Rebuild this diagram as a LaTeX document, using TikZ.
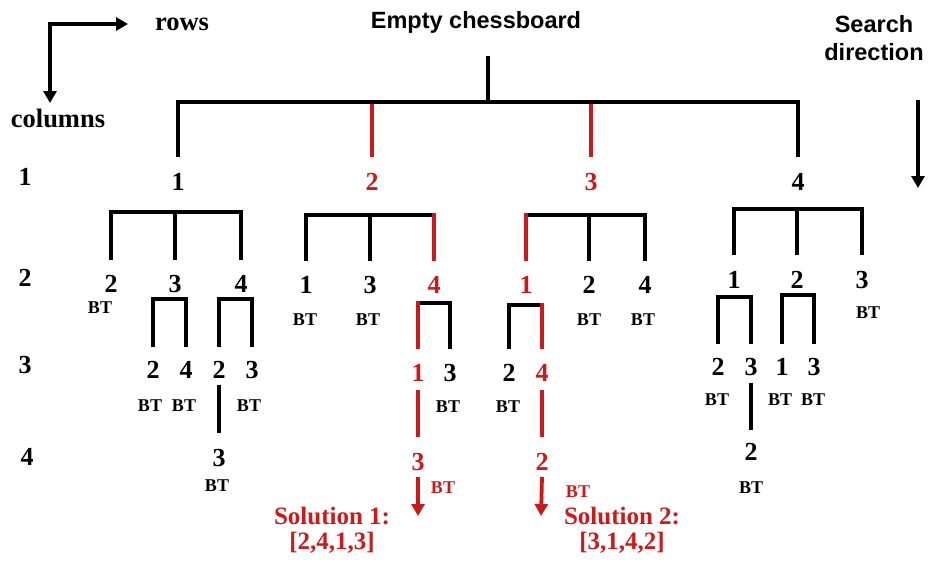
\documentclass[tikz,border=0pt]{standalone}
\usepackage{fontspec}
\setmainfont{Liberation Serif}
\newfontfamily\headsans{Liberation Sans}
\usetikzlibrary{arrows.meta,calc}
\definecolor{solred}{RGB}{205,25,25}
\begin{document}
\begin{tikzpicture}[x=1pt,y=-1pt,
  num/.style={font=\bfseries\fontsize{26}{26}\selectfont, inner sep=0pt},
  rnum/.style={num, text=solred},
  bt/.style={font=\bfseries\fontsize{18}{18}\selectfont, inner sep=0pt},
  rbt/.style={bt, text=solred},
  axislabel/.style={font=\bfseries\fontsize{26.5}{26.5}\selectfont, inner sep=0pt, anchor=base},
  heading/.style={font=\headsans\bfseries\fontsize{23.5}{28}\selectfont, inner sep=0pt, anchor=base, align=center},
  solution/.style={font=\bfseries\fontsize{25}{25}\selectfont, text=solred, inner sep=0pt, anchor=base, align=center},
  wire/.style={line width=3.8pt, draw=black},
  redwire/.style={line width=3.8pt, draw=solred},
  pointer/.style={line width=3.8pt, -{Triangle[length=12pt,width=13pt]}},
  redpointer/.style={pointer, draw=solred, fill=solred},
]
\fill[white] (0,0) rectangle (930,563);
\useasboundingbox (0,0) rectangle (930,563);

% ---- orientation key and headings ----
\node[axislabel] (rows) at (182,30) {rows};
\node[axislabel] (columns) at (58,127) {columns};
\coordinate (corner) at (50,24);
\coordinate (rowtip) at (128,24);
\coordinate (coltip) at (50,103);
\draw[pointer] (coltip |- corner) ++(0,-1.9pt) -- (coltip);
\draw[pointer] (corner) ++(-1.9pt,0) -- (rowtip);

% multi-line nodes: base anchor sits on the last line
\node[heading] (root) at (476,28) {Empty chessboard};
\node[heading] (search) at (874,60) {Search\\direction};
\coordinate (searchtop) at (918,100);
\coordinate (searchtip) at (918,188);
\draw[pointer] (searchtop) -- (searchtip);

% ---- column numbers on the left ----
\node[num] (c1) at (25,177) {1};
\node[num] (c2) at (25,278) {2};
\node[num] (c3) at (25,365) {3};
\node[num] (c4) at (27,457) {4};

% ---- level 1 ----
\node[num]  (n1) at (178,182) {1};
\node[rnum] (n2) at (372,182) {2};
\node[rnum] (n3) at (591,182) {3};
\node[num]  (n4) at (798,182) {4};

\coordinate (top) at (488,102);
\coordinate (stem) at (488,56);
\draw[wire] (stem) -- (top);
\draw[wire] ([yshift=16pt]n1.north) -- (n1.north |- top) -- (n4.north |- top) -- ([yshift=16pt]n4.north);
\draw[redwire, shorten <=1.9pt] (n2.north |- top) -- ([yshift=16pt]n2.north);
\draw[redwire, shorten <=1.9pt] (n3.north |- top) -- ([yshift=16pt]n3.north);

% ---- level 2 ----
\node[num]  (n12) at (111,284) {2};
\node[num]  (n13) at (175,284) {3};
\node[num]  (n14) at (241,284) {4};
\node[num]  (n21) at (306,285) {1};
\node[num]  (n23) at (370,285) {3};
\node[rnum] (n24) at (434,285) {4};
\node[rnum] (n31) at (526,285) {1};
\node[num]  (n32) at (589,285) {2};
\node[num]  (n34) at (645,285) {4};
\node[num]  (n41) at (734,280) {1};
\node[num]  (n42) at (797,280) {2};
\node[num]  (n43) at (862,280) {3};

\node[bt] (bt12) at (100,308) {BT};
\node[bt] (bt21) at (305,320) {BT};
\node[bt] (bt23) at (368,320) {BT};
\node[bt] (bt32) at (589,320) {BT};
\node[bt] (bt34) at (643,320) {BT};
\node[bt] (bt43) at (868,313) {BT};

\coordinate (bar1) at (0,212);
\coordinate (bar2) at (0,215);
\coordinate (bar3) at (0,215);
\coordinate (bar4) at (0,209);

\draw[wire] ([yshift=15pt]n12.north) -- (n12.north |- bar1) -- (n14.north |- bar1) -- ([yshift=15pt]n14.north);
\draw[wire] (n13.north |- bar1) -- ([yshift=15pt]n13.north);

\draw[wire] ([yshift=15pt]n21.north) -- (n21.north |- bar2) -- (n24.north |- bar2);
\draw[wire] (n23.north |- bar2) -- ([yshift=15pt]n23.north);
\draw[redwire, shorten <=-1.9pt] (n24.north |- bar2) -- ([yshift=15pt]n24.north);

\draw[wire] (n31.north |- bar3) -- (n34.north |- bar3) -- ([yshift=15pt]n34.north);
\draw[wire] (n32.north |- bar3) -- ([yshift=15pt]n32.north);
\draw[redwire, shorten <=-1.9pt] (n31.north |- bar3) -- ([yshift=15pt]n31.north);

\draw[wire] ([yshift=16pt]n41.north) -- (n41.north |- bar4) -- (n43.north |- bar4) -- ([yshift=16pt]n43.north);
\draw[wire] (n42.north |- bar4) -- ([yshift=16pt]n42.north);

% ---- level 3 ----
\node[num]  (n132) at (153,370) {2};
\node[num]  (n134) at (186,370) {4};
\node[num]  (n142) at (219,370) {2};
\node[num]  (n143) at (252,370) {3};
\node[rnum] (n241) at (418,373) {1};
\node[num]  (n243) at (450,373) {3};
\node[num]  (n312) at (509,373) {2};
\node[rnum] (n314) at (542,373) {4};
\node[num]  (n412) at (718,367) {2};
\node[num]  (n413) at (751,367) {3};
\node[num]  (n421) at (782,367) {1};
\node[num]  (n423) at (814,367) {3};

\node[bt] (bt132) at (150,406) {BT};
\node[bt] (bt134) at (184,406) {BT};
\node[bt] (bt143) at (249,406) {BT};
\node[bt] (bt243) at (448,407) {BT};
\node[bt] (bt312) at (508,407) {BT};
\node[bt] (bt412) at (717,400) {BT};
\node[bt] (bt421) at (780,400) {BT};
\node[bt] (bt423) at (813,400) {BT};

\coordinate (bar13) at (0,299);
\coordinate (bar14) at (0,299);
\coordinate (bar24) at (0,303);
\coordinate (bar31) at (0,305);
\coordinate (bar41) at (0,297);
\coordinate (bar42) at (0,295);

\draw[wire] ([yshift=14pt]n132.north) -- (n132.north |- bar13) -- (n134.north |- bar13) -- ([yshift=14pt]n134.north);
\draw[wire] ([yshift=14pt]n142.north) -- (n142.north |- bar14) -- (n143.north |- bar14) -- ([yshift=14pt]n143.north);
\draw[wire] (n241.north |- bar24) -- (n243.north |- bar24) -- ([yshift=15pt]n243.north);
\draw[redwire, shorten <=-1.9pt] (n241.north |- bar24) -- ([yshift=15pt]n241.north);
\draw[wire] ([yshift=15pt]n312.north) -- (n312.north |- bar31) -- (n314.north |- bar31);
\draw[redwire, shorten <=-1.9pt] (n314.north |- bar31) -- ([yshift=15pt]n314.north);
\draw[wire] ([yshift=14pt]n412.north) -- (n412.north |- bar41) -- (n413.north |- bar41) -- ([yshift=14pt]n413.north);
\draw[wire] ([yshift=14pt]n421.north) -- (n421.north |- bar42) -- (n423.north |- bar42) -- ([yshift=14pt]n423.north);

% ---- level 4 ----
\node[num]  (n1423) at (219,458) {3};
\node[bt]   (bt1423) at (217,486) {BT};
\node[rnum] (n2413) at (418,462) {3};
\node[rbt]  (bt2413) at (443,488) {BT};
\node[rnum] (n3142) at (542,462) {2};
\node[rbt]  (bt3142) at (578,492) {BT};
\node[num]  (n4132) at (751,452) {2};
\node[bt]   (bt4132) at (751,488) {BT};

\draw[wire] ([yshift=-6pt]n142.south) -- ([yshift=16pt]n1423.north);
\draw[redwire] ([yshift=-8pt]n241.south) -- ([yshift=16pt]n2413.north);
\draw[redwire] ([yshift=-8pt]n314.south) -- ([yshift=16pt]n3142.north);
\draw[wire] ([yshift=-7pt]n413.south) -- ([yshift=13pt]n4132.north);

% ---- solutions ----
\coordinate (tip1) at (418,516);
\coordinate (tip2) at (541,516);
\draw[redpointer] ([yshift=-6pt]n2413.south) -- (tip1);
\draw[redpointer] ([yshift=-6pt]n3142.south) -- (tip2);

\node[solution] (sol1) at (332,549) {Solution 1:\\{[2,4,1,3]}};
\node[solution] (sol2) at (622,549) {Solution 2:\\{[3,1,4,2]}};
\end{tikzpicture}
\end{document}
